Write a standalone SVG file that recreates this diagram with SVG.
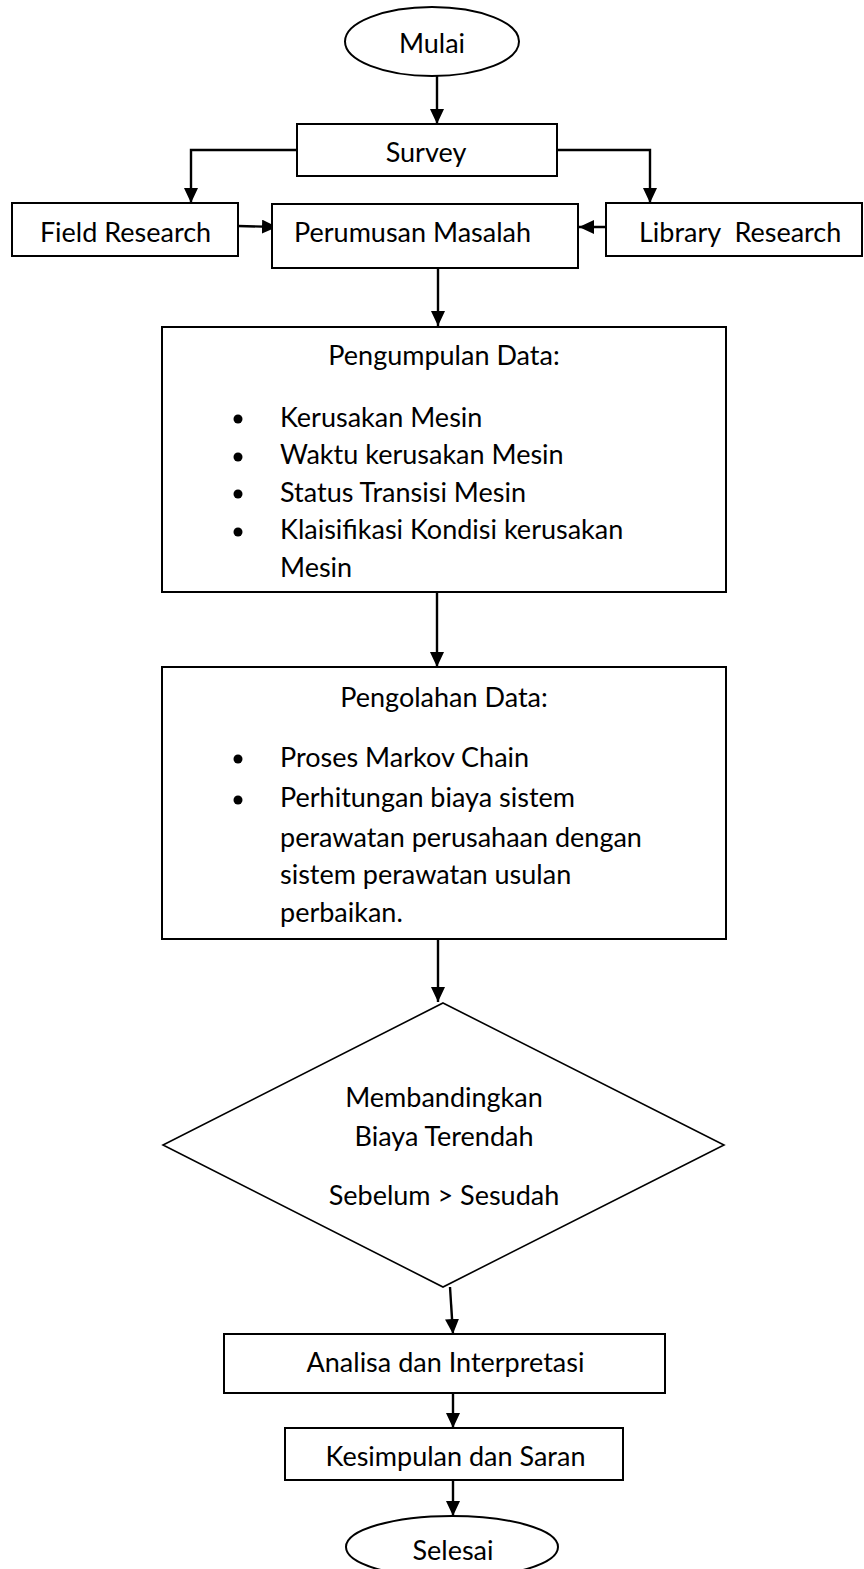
<svg xmlns="http://www.w3.org/2000/svg" width="864" height="1569" viewBox="0 0 864 1569">
<defs>
<marker id="ah" markerUnits="userSpaceOnUse" markerWidth="15" markerHeight="14" refX="15" refY="7" orient="auto">
<path d="M0,0 L15,7 L0,14 z" fill="#000"/>
</marker>
<style>
.box{fill:#fff;stroke:#000;stroke-width:2}
.dia{fill:#fff;stroke:#000;stroke-width:1.6}
.t{font-family:Lato,"Liberation Sans",sans-serif;font-size:27px;fill:#000}
.c{text-anchor:middle}
.conn{fill:none;stroke:#000;stroke-width:2.4;marker-end:url(#ah)}
</style>
</defs>
<rect width="864" height="1569" fill="#fff"/>
<g id="connectors">
<path class="conn" d="M437,76 V124"/>
<path class="conn" d="M297,150 H191 V203"/>
<path class="conn" d="M557,150 H650 V203"/>
<path class="conn" d="M238,226 L277,227"/>
<path class="conn" d="M615,227 H579"/>
<path class="conn" d="M438,268 V326"/>
<path class="conn" d="M437,592 V667"/>
<path class="conn" d="M438,939 V1002"/>
<path class="conn" d="M450,1287 L453,1334"/>
<path class="conn" d="M453,1393 V1428"/>
<path class="conn" d="M453,1480 V1516"/>
</g>
<g id="mulai">
<ellipse class="box" cx="432" cy="41.5" rx="87" ry="34.5"/>
<text class="t c" x="432" y="53">Mulai</text>
</g>
<g id="survey">
<rect class="box" x="297" y="124" width="260" height="52"/>
<text class="t c" x="426" y="162">Survey</text>
</g>
<g id="field-research">
<rect class="box" x="12" y="203" width="226" height="53"/>
<text class="t c" x="125.5" y="242">Field Research</text>
</g>
<g id="perumusan-masalah">
<rect class="box" x="272" y="204" width="306" height="64"/>
<text class="t" x="294" y="242">Perumusan Masalah</text>
</g>
<g id="library-research">
<rect class="box" x="606" y="203" width="256" height="53"/>
<text class="t" x="639" y="242" xml:space="preserve">Library  Research</text>
</g>
<g id="pengumpulan-data">
<rect class="box" x="162" y="327" width="564" height="265"/>
<text class="t c" x="444" y="365">Pengumpulan Data:</text>
<circle cx="238" cy="419" r="4.5"/>
<circle cx="238" cy="457" r="4.5"/>
<circle cx="238" cy="494" r="4.5"/>
<circle cx="238" cy="532" r="4.5"/>
<text class="t" x="280" y="427">Kerusakan Mesin</text>
<text class="t" x="280" y="464">Waktu kerusakan Mesin</text>
<text class="t" x="280" y="502">Status Transisi Mesin</text>
<text class="t" x="280" y="539">Klaisifikasi Kondisi kerusakan</text>
<text class="t" x="280" y="577">Mesin</text>
</g>
<g id="pengolahan-data">
<rect class="box" x="162" y="667" width="564" height="272"/>
<text class="t c" x="444" y="707">Pengolahan Data:</text>
<circle cx="238" cy="759" r="4.5"/>
<circle cx="238" cy="800" r="4.5"/>
<text class="t" x="280" y="767">Proses Markov Chain</text>
<text class="t" x="280" y="807">Perhitungan biaya sistem</text>
<text class="t" x="280" y="847">perawatan perusahaan dengan</text>
<text class="t" x="280" y="884">sistem perawatan usulan</text>
<text class="t" x="280" y="922">perbaikan.</text>
</g>
<g id="membandingkan">
<polygon class="dia" points="443,1003 724,1145 443,1287 163,1145"/>
<text class="t c" x="444" y="1107">Membandingkan</text>
<text class="t c" x="444" y="1146">Biaya Terendah</text>
<text class="t c" x="444" y="1205">Sebelum &gt; Sesudah</text>
</g>
<g id="analisa">
<rect class="box" x="224" y="1334" width="441" height="59"/>
<text class="t c" x="445.5" y="1372">Analisa dan Interpretasi</text>
</g>
<g id="kesimpulan">
<rect class="box" x="285" y="1428" width="338" height="52"/>
<text class="t c" x="455.5" y="1466">Kesimpulan dan Saran</text>
</g>
<g id="selesai">
<ellipse class="box" cx="452" cy="1547" rx="106" ry="31"/>
<text class="t c" x="453" y="1560">Selesai</text>
</g>
</svg>
